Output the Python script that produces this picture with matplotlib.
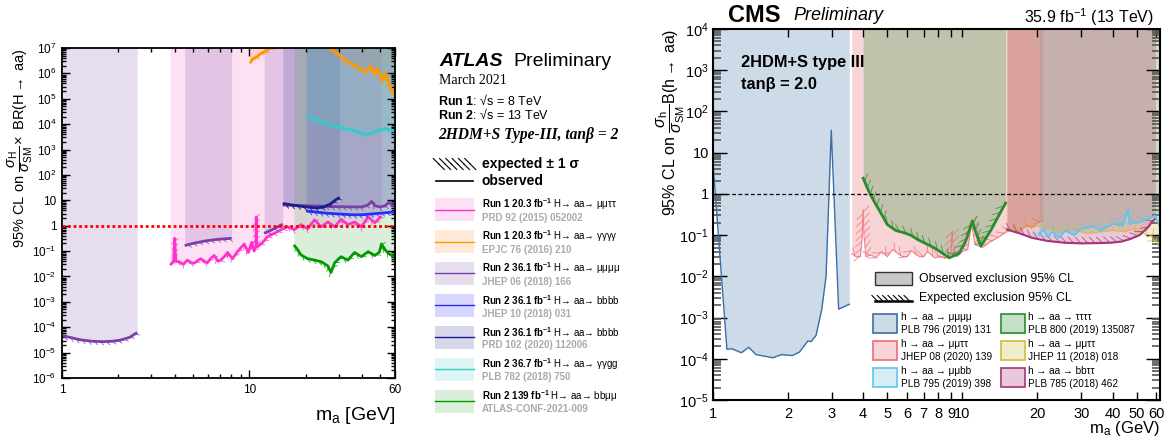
import numpy as np
import matplotlib
matplotlib.use("Agg")
import matplotlib.pyplot as plt
from matplotlib import patheffects as pe
from matplotlib.patches import Rectangle
from matplotlib.ticker import FixedLocator, LogLocator, FuncFormatter, NullFormatter

plt.rcParams["font.family"] = ["Liberation Sans", "DejaVu Sans"]
plt.rcParams["mathtext.fontset"] = "custom"
plt.rcParams["mathtext.rm"] = "Liberation Sans"
plt.rcParams["mathtext.it"] = "Liberation Sans:italic"
plt.rcParams["mathtext.bf"] = "Liberation Sans:bold"

# ---------------- ATLAS limits (left) ----------------
mmtt_r1_m = [3.78, 3.95, 4.0, 4.05, 4.21, 4.45, 4.67, 4.85, 5.07, 5.3, 5.51, 5.75, 5.98, 6.2, 6.49, 6.8,
             7.05, 7.35, 7.66, 8.14, 8.5, 8.85, 9.40, 9.88, 10.3, 10.6, 10.85, 10.9, 10.95, 11.1, 11.8,
             12.5, 13.6, 14.8, 16.0, 17.4, 18.9, 20.5, 22.3, 24.2, 26.3, 28.6, 30.9, 33.6, 36.5, 39.7,
             43.1, 46.8, 50.8]
mmtt_r1_obs = [0.028, 0.04, 0.32, 0.04, 0.038, 0.03, 0.044, 0.035, 0.033, 0.042, 0.05, 0.038, 0.035, 0.05,
               0.067, 0.04, 0.044, 0.06, 0.088, 0.05, 0.08, 0.115, 0.19, 0.088, 0.22, 0.1, 0.15, 2.2,
               0.2, 0.15, 0.22, 0.37, 0.5, 0.7, 0.9, 0.7, 1.1, 0.75, 1.7, 0.9, 1.4, 0.9, 1.8, 1.1, 1.4,
               0.9, 2.2, 1.3, 2.4]

gggg_r1_m = [10.1, 10.4, 11.0, 11.5, 12.2, 13.0, 16, 20, 24, 26.8, 29.6, 33.6, 37.7, 41.6, 44.2, 46.8,
             48.6, 51.5, 53.4, 56.5, 59.8]
gggg_r1_obs = [2.5e6, 3.8e6, 4.5e6, 6e6, 7.5e6, 1.0e7, 3e7, 4e7, 2e7, 1.0e7, 6e6, 2.8e6, 1.8e6, 1.1e6,
               1.9e6, 9e5, 1.5e6, 5.3e5, 9.8e5, 2.9e5, 1.4e5]

mmmm_r2_m = [[1.0, 1.1, 1.25, 1.45, 1.67, 1.85, 2.05, 2.3, 2.52],
             [4.52, 5.0, 5.8, 6.8, 8.05],
             [12.0, 13.0, 14.0, 15.1],
             [15.1, 18, 22, 26, 30, 35, 40, 43, 45, 47, 50, 53, 56, 58, 60]]
mmmm_r2_obs = [[4.6e-5, 4.0e-5, 3.2e-5, 2.8e-5, 2.7e-5, 2.8e-5, 3.1e-5, 4.0e-5, 6.2e-5],
               [0.165, 0.2, 0.25, 0.29, 0.32],
               [0.5, 0.65, 0.85, 1.15],
               [6.5, 6.3, 6.0, 5.8, 5.6, 5.5, 5.5, 6.5, 9.0, 6.0, 5.5, 6.0, 8.5, 6.0, 7.0]]

bbbb18_m = [20.1, 23, 26, 30, 35, 40, 45, 50, 55, 60]
bbbb18_obs = [3.8, 3.4, 3.1, 2.9, 2.7, 2.7, 2.9, 3.1, 3.3, 3.5]

bbbb20_m = [15.1, 17, 20, 23, 25, 27, 29, 30.4]
bbbb20_obs = [7.5, 6.5, 5.5, 5.0, 5.5, 7.0, 10.5, 13.0]

gggg2_m = [20.3, 22, 24.2, 27, 29.6, 33, 36.5, 41.6, 44, 46.8, 50, 52.8, 56, 59.8]
gggg2_obs = [2.2e4, 1.6e4, 1.23e4, 9.5e3, 7.9e3, 6.5e3, 5.5e3, 4.0e3, 4.2e3, 5.0e3, 6.0e3, 6.7e3, 6.0e3, 5.5e3]

bbmm_m = [17.3, 18.0, 18.9, 20.5, 22.3, 24.2, 26.3, 27.3, 28.6, 30.9, 33.6, 36.5, 39.7, 43.1, 46.8,
          49.5, 50.8, 53.0, 55.5, 57.6, 60.0]
bbmm_obs = [0.175, 0.12, 0.07, 0.05, 0.044, 0.038, 0.026, 0.0143, 0.035, 0.06, 0.044, 0.088, 0.06,
            0.095, 0.067, 0.09, 0.19, 0.115, 0.08, 0.067, 0.06]

atlas_runs = ["Run 1 20.3", "Run 1 20.3", "Run 2 36.1", "Run 2 36.1", "Run 2 36.1", "Run 2 36.7", "Run 2 139"]
atlas_decays = ["μμττ", "γγγγ", "μμμμ", "bbbb", "bbbb", "γγgg", "bbμμ"]
atlas_refs = ["PRD 92 (2015) 052002", "EPJC 76 (2016) 210", "JHEP 06 (2018) 166", "JHEP 10 (2018) 031",
              "PRD 102 (2020) 112006", "PLB 782 (2018) 750", "ATLAS-CONF-2021-009"]
atlas_line = ["#ff33cc", "#ff9900", "#7a3fa8", "#2b2bff", "#1c1c90", "#33cccc", "#009900"]
atlas_fill = ["#f564c3", "#ff9132", "#8255aa", "#3232ff", "#3c3ca0", "#55cdcd", "#41af41"]

# ---------------- CMS limits (right) ----------------
cms_mmmm_m = [1.0, 1.137, 1.19, 1.30, 1.39, 1.49, 1.74, 1.88, 2.08, 2.22, 2.40, 2.47, 2.59, 2.73, 2.84,
              2.98, 3.19, 3.52]
cms_mmmm_obs = [5.6, 1.7e-4, 1.75e-4, 1.4e-4, 1.9e-4, 1.26e-4, 1.06e-4, 1.26e-4, 1.2e-4, 1.45e-4, 2.7e-4,
                2.6e-4, 3.7e-4, 1.6e-3, 1.0e-2, 35, 1.6e-3, 2.1e-3]

cms_mmtt20_m = [3.6, 3.75, 3.9, 3.97, 4.0, 4.03, 4.1, 4.3, 4.5, 4.75, 5.0, 5.25, 5.5, 5.75, 6.0, 6.25, 6.5,
                6.75, 7.0, 7.25, 7.5, 7.75, 8.0, 8.5, 9.0, 9.1, 9.2, 9.5, 10.0, 10.5, 10.9, 11.2, 12.0,
                13.0, 14.0, 15.0, 16.0, 17.0, 18.0, 19.0, 20.0, 21.0]
cms_mmtt20_obs = [0.035, 0.03, 0.03, 0.1, 0.42, 0.1, 0.03, 0.033, 0.028, 0.04, 0.03, 0.045, 0.036, 0.03,
                  0.03, 0.042, 0.034, 0.03, 0.03, 0.04, 0.033, 0.028, 0.03, 0.028, 0.035, 0.13, 0.035,
                  0.03, 0.04, 0.045, 0.2, 0.06, 0.05, 0.07, 0.09, 0.12, 0.14, 0.12, 0.17, 0.15, 0.2, 0.22]

cms_tttt_m = [4.0, 4.2, 4.4, 4.7, 5.0, 5.4, 5.8, 6.2, 6.7, 7.3, 7.8, 8.4, 8.85, 9.7, 10.3, 10.96, 11.3,
              11.86, 13.0, 14.0, 14.9]
cms_tttt_obs = [2.4, 1.2, 0.7, 0.35, 0.18, 0.13, 0.115, 0.1, 0.075, 0.058, 0.047, 0.035, 0.028, 0.036,
                0.07, 0.22, 0.12, 0.054, 0.13, 0.3, 0.6]

cms_mmtt18_m = [15.0, 16, 17, 18, 19, 20, 22, 25, 28, 32, 36, 40, 45, 48, 50, 53, 55, 57, 59, 60, 61, 62]
cms_mmtt18_obs = [0.12, 0.14, 0.13, 0.16, 0.15, 0.17, 0.14, 0.12, 0.13, 0.11, 0.12, 0.13, 0.12, 0.14,
                  0.11, 0.12, 0.09, 0.1, 0.07, 0.08, 0.055, 0.05]

cms_bbtt_m = [15.1, 17, 19, 22, 25.9, 30, 35.2, 40, 43.6, 47, 51.4, 55.8, 57.5, 59.5]
cms_bbtt_obs = [0.136, 0.11, 0.086, 0.072, 0.065, 0.063, 0.064, 0.066, 0.07, 0.08, 0.1, 0.16, 0.21, 0.25]

cms_mmbb_m = [20.3, 21, 22, 23, 24.4, 26, 28, 30, 33, 36, 40, 44, 46, 47, 48, 50, 53, 56, 59, 61, 62]
cms_mmbb_obs = [0.1, 0.14, 0.09, 0.12, 0.087, 0.13, 0.1, 0.14, 0.16, 0.13, 0.19, 0.17, 0.41, 0.18, 0.2,
                0.2, 0.22, 0.25, 0.3, 0.2, 0.15]

cms_decays = ["h → aa → μμμμ", "h → aa → μμττ", "h → aa → μμbb",
              "h → aa → ττττ", "h → aa → μμττ", "h → aa → bbττ"]
cms_refs = ["PLB 796 (2019) 131", "JHEP 08 (2020) 139", "PLB 795 (2019) 398",
            "PLB 800 (2019) 135087", "JHEP 11 (2018) 018", "PLB 785 (2018) 462"]
cms_line = ["#3b6ea5", "#f06b79", "#5fc6ee", "#2a8c2e", "#d2bd3c", "#a8327c"]
cms_fill = ["#3b6ea5", "#e75763", "#57bbdf", "#3f9a4b", "#cbb733", "#a7276b"]
cms_alpha = [0.25, 0.25, 0.25, 0.3, 0.25, 0.25]

W, H = 1169, 445
fig = plt.figure(figsize=(W / 100, H / 100), dpi=100)


def px_axes(x0, y0, x1, y1):
    return fig.add_axes([x0 / W, 1 - y1 / H, (x1 - x0) / W, (y1 - y0) / H])


def pow_fmt(v, pos):
    e = int(round(np.log10(v)))
    if e == 0:
        return "1"
    if e == 1:
        return "10"
    return r"$10^{%d}$" % e


# ---------------- left: ATLAS ----------------
axL = px_axes(62, 48, 395, 378)
axL.set_xscale("log")
axL.set_yscale("log")

atlas_sets = [([mmtt_r1_m], [mmtt_r1_obs]), ([gggg_r1_m], [gggg_r1_obs]), (mmmm_r2_m, mmmm_r2_obs),
              ([bbbb18_m], [bbbb18_obs]), ([bbbb20_m], [bbbb20_obs]), ([gggg2_m], [gggg2_obs]),
              ([bbmm_m], [bbmm_obs])]
for i, (ms, obss) in enumerate(atlas_sets):
    for m, o in zip(ms, obss):
        axL.fill_between(m, o, 1e8, color=atlas_fill[i], alpha=0.2, lw=0)
        axL.plot(m, o, color=atlas_line[i], lw=2.0, solid_capstyle="butt",
                 path_effects=[pe.withTickedStroke(angle=-45, spacing=4, length=0.9, linewidth=0.5)])

axL.axhline(1, color="#ff0000", lw=2.0, ls=(0, (1, 1)))
axL.set_xlim(1, 60)
axL.set_ylim(1e-6, 1e7)
axL.xaxis.set_major_locator(FixedLocator([1, 10, 60]))
axL.xaxis.set_major_formatter(FuncFormatter(lambda v, p: "%d" % v))
axL.xaxis.set_minor_locator(LogLocator(base=10, subs=np.arange(2, 10), numticks=20))
axL.xaxis.set_minor_formatter(NullFormatter())
axL.yaxis.set_major_locator(LogLocator(base=10, numticks=20))
axL.yaxis.set_major_formatter(FuncFormatter(pow_fmt))
axL.yaxis.set_minor_locator(LogLocator(base=10, subs=np.arange(2, 10), numticks=20))
axL.yaxis.set_minor_formatter(NullFormatter())
axL.tick_params(which="both", direction="in", top=True, right=True, width=1.0, labelsize=8.5)
axL.tick_params(which="major", length=6, pad=4)
axL.tick_params(which="minor", length=3)
for s in axL.spines.values():
    s.set_linewidth(1.3)

# ---------------- right: CMS ----------------
axR = px_axes(713, 29, 1160, 400)
axR.set_xscale("log")
axR.set_yscale("log")

cms_sets = [(cms_mmmm_m, cms_mmmm_obs), (cms_mmtt20_m, cms_mmtt20_obs), (cms_mmbb_m, cms_mmbb_obs),
            (cms_tttt_m, cms_tttt_obs), (cms_mmtt18_m, cms_mmtt18_obs), (cms_bbtt_m, cms_bbtt_obs)]
for i, (m, o) in enumerate(cms_sets):
    axR.fill_between(m, o, 1e5, color=cms_fill[i], alpha=cms_alpha[i], lw=0)
for i in [1, 4, 5, 2, 3]:
    m, o = cms_sets[i]
    axR.plot(m, o, color=cms_line[i], lw=0.8, alpha=0.8,
             path_effects=[pe.withTickedStroke(angle=135, spacing=5, length=1.2, linewidth=0.6)])
axR.plot(cms_mmmm_m, cms_mmmm_obs, color=cms_line[0], lw=1.0)
axR.plot(cms_tttt_m, cms_tttt_obs, color=cms_line[3], lw=2.0)
axR.plot(cms_bbtt_m, cms_bbtt_obs, color=cms_line[5], lw=1.5)
axR.plot(cms_mmbb_m, cms_mmbb_obs, color=cms_line[2], lw=1.3)

axR.axhline(1, color="black", lw=0.9, ls=(0, (3, 2)))
axR.set_xlim(1, 62)
axR.set_ylim(1e-5, 1e4)
xt = [1, 2, 3, 4, 5, 6, 7, 8, 9, 10, 20, 30, 40, 50, 60]
axR.xaxis.set_major_locator(FixedLocator(xt))
axR.xaxis.set_major_formatter(FuncFormatter(lambda v, p: "%d" % v))
axR.xaxis.set_minor_locator(FixedLocator([]))
axR.yaxis.set_major_locator(LogLocator(base=10, numticks=20))
axR.yaxis.set_major_formatter(FuncFormatter(pow_fmt))
axR.yaxis.set_minor_locator(LogLocator(base=10, subs=np.arange(2, 10), numticks=20))
axR.yaxis.set_minor_formatter(NullFormatter())
axR.tick_params(which="both", direction="in", top=True, right=True, width=1.0, labelsize=10.5)
axR.tick_params(axis="x", which="major", length=6, pad=5)
axR.tick_params(axis="y", which="major", length=10, pad=3)
axR.tick_params(axis="y", which="minor", length=6, color="#555555", width=1.2)
for s in axR.spines.values():
    s.set_linewidth(1.5)

# ---------------- overlay for text and legends (pixel coords) ----------------
ov = fig.add_axes([0, 0, 1, 1], zorder=10)
ov.set_xlim(0, W)
ov.set_ylim(H, 0)
ov.axis("off")
ov.patch.set_alpha(0)

# ATLAS axis titles
ov.text(20, 48, r"95% CL on $\dfrac{\sigma_{\rm H}}{\sigma_{\rm SM}}\!\times$ BR(H$\rightarrow$ aa)",
        rotation=90, ha="center", va="top", fontsize=10.5)
ov.text(395, 415, r"m$_{\rm a}$ [GeV]", ha="right", va="center", fontsize=14)

# ATLAS legend block
ov.text(439, 62, "ATLAS", fontsize=14, fontweight="bold", fontstyle="italic", va="center")
ov.text(513, 62, "Preliminary", fontsize=14, va="center")
ov.text(439, 81, "March 2021", fontsize=10, family="Liberation Serif", va="center")
ov.text(438, 101, r"$\mathbf{Run\ 1}$: √s = 8 TeV", fontsize=9, va="center")
ov.text(438, 115, r"$\mathbf{Run\ 2}$: √s = 13 TeV", fontsize=9, va="center")
ov.text(438, 135, "2HDM+S Type-III, tanβ = 2", fontsize=11.2, family="Liberation Serif",
        fontweight="bold", fontstyle="italic", va="center")
ov.plot([436, 473], [164, 164], color="black", lw=0.01,
        path_effects=[pe.TickedStroke(angle=-45, spacing=4, length=1.4, linewidth=0.8),
                      pe.TickedStroke(angle=135, spacing=4, length=1.4, linewidth=0.8)])
ov.text(482, 164, "expected ± 1 σ", fontsize=10, fontweight="bold", va="center")
ov.plot([436, 473], [181, 181], color="black", lw=1.2)
ov.text(482, 181, "observed", fontsize=10, fontweight="bold", va="center")
for i in range(7):
    cy = 209.6 + 31.9 * i
    ov.add_patch(Rectangle((435, cy - 11.5), 39, 23, facecolor=atlas_fill[i], alpha=0.2, lw=0))
    ov.plot([435, 474], [cy, cy], color=atlas_line[i], lw=1.0)
    ov.text(482, cy - 5.3, r"$\mathbf{%s\ fb^{-1}}$ H→ aa→ %s" % (atlas_runs[i].replace(" ", r"\ "),
                                                              atlas_decays[i]),
            fontsize=7.0, va="center")
    ov.text(482, cy + 8.3, atlas_refs[i], fontsize=7.0, fontweight="bold", color="#aaaaaa", va="center")

# CMS titles
ov.text(728, 15, "CMS", fontsize=17, fontweight="bold", va="center")
ov.text(793, 15, "Preliminary", fontsize=13, fontstyle="italic", va="center")
ov.text(1154, 17, r"35.9 fb$^{-1}$ (13 TeV)", fontsize=11.5, ha="right", va="center")
ov.text(741, 62, "2HDM+S type III", fontsize=11.8, fontweight="bold", va="center")
ov.text(741, 84, "tanβ = 2.0", fontsize=11.8, fontweight="bold", va="center")
ov.text(671, 29, r"95% CL on $\dfrac{\sigma_{\rm h}}{\sigma_{\rm SM}}$B(h$\rightarrow$ aa)",
        rotation=90, ha="center", va="top", fontsize=11.5)
ov.text(1160, 429, r"m$_{\rm a}$ (GeV)", ha="right", va="center", fontsize=12)

# CMS legend
ov.add_patch(Rectangle((875, 271.5), 37, 13.5, facecolor="#c8c8c8", edgecolor="#333333", lw=1.0))
ov.text(919, 278.5, "Observed exclusion 95% CL", fontsize=8.8, va="center")
ov.plot([875, 912], [301, 301], color="black", lw=1.8,
        path_effects=[pe.withTickedStroke(angle=135, spacing=3.5, length=1.6, linewidth=0.8)])
ov.text(919, 297.5, "Expected exclusion 95% CL", fontsize=8.8, va="center")
for i in range(6):
    col, row = divmod(i, 3)
    bx = 873 + 127.5 * col
    tx = 901 + 127.5 * col
    cy = 323.5 + 27.2 * row
    ov.add_patch(Rectangle((bx, cy - 9.5), 24, 19, facecolor=cms_fill[i], alpha=cms_alpha[i], lw=0))
    ov.add_patch(Rectangle((bx, cy - 9.5), 24, 19, facecolor="none", edgecolor=cms_line[i], lw=1.2))
    ov.text(tx, cy - 6.5, cms_decays[i], fontsize=7.2, va="center")
    ov.text(tx, cy + 6.5, cms_refs[i], fontsize=7.2, va="center")

fig.savefig("out.png", dpi=100)
